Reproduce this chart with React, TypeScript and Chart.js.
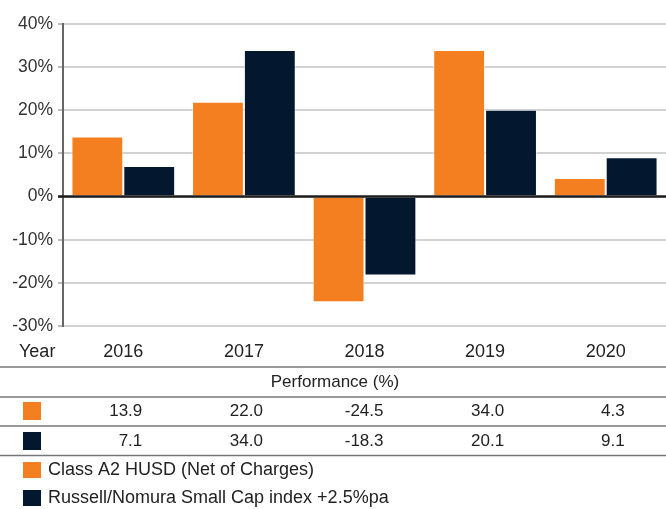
import React, { useEffect, useRef } from "react";
import { Chart, registerables } from "chart.js";

Chart.register(...registerables);

const years = ["2016", "2017", "2018", "2019", "2020"];
const classA2 = [13.9, 22.0, -24.5, 34.0, 4.3];
const russell = [7.1, 34.0, -18.3, 20.1, 9.1];
const yTicks = [-30, -20, -10, 0, 10, 20, 30, 40];
const seriesNames = ["Class A2 HUSD (Net of Charges)", "Russell/Nomura Small Cap index +2.5%pa"];
const tableTitle = "Performance (%)";
const yearHeader = "Year";

const ORANGE = "#F47F20";
const NAVY = "#03182F";
const FONT = "'Liberation Sans', Arial, Helvetica, sans-serif";
const TEXT = "#222";

const tablePlugin = {
  id: "tablePlugin",
  afterDatasetsDraw(chart: any) {
    const ctx = chart.ctx;
    const x = chart.scales.x;
    const y = chart.scales.y;
    const area = chart.chartArea;
    const W = chart.width;
    ctx.save();
    // zero line over bars
    const y0 = y.getPixelForValue(0);
    ctx.strokeStyle = "#1e1e1e";
    ctx.lineWidth = 2.5;
    ctx.beginPath();
    ctx.moveTo(area.left - 5, y0);
    ctx.lineTo(W, y0);
    ctx.stroke();

    ctx.font = `18px ${FONT}`;
    ctx.fillStyle = TEXT;
    ctx.textBaseline = "middle";
    // Year row
    ctx.textAlign = "left";
    ctx.fillText(yearHeader, 19, 352);
    ctx.textAlign = "center";
    years.forEach((yr, i) => ctx.fillText(yr, x.getPixelForValue(i), 352));

    const hline = (yy: number) => {
      ctx.strokeStyle = "#777";
      ctx.lineWidth = 1.5;
      ctx.beginPath();
      ctx.moveTo(0, yy);
      ctx.lineTo(W, yy);
      ctx.stroke();
    };
    hline(367);
    ctx.fillStyle = TEXT;
    ctx.textAlign = "center";
    ctx.font = `17px ${FONT}`;
    ctx.fillText(tableTitle, W / 2 + 2, 382);
    hline(397);

    const rows = [
      { color: ORANGE, data: classA2, y: 411 },
      { color: NAVY, data: russell, y: 441 },
    ];
    rows.forEach((r) => {
      ctx.fillStyle = r.color;
      ctx.fillRect(23, r.y - 9, 18, 18);
      ctx.fillStyle = TEXT;
      ctx.textAlign = "right";
      ctx.font = `17px ${FONT}`;
      r.data.forEach((v, i) => ctx.fillText(v.toFixed(1), x.getPixelForValue(i) + 19, r.y));
    });
    hline(426);
    hline(455.5);

    // legend
    const legend = [
      { color: ORANGE, label: seriesNames[0], y: 470 },
      { color: NAVY, label: seriesNames[1], y: 498 },
    ];
    legend.forEach((l) => {
      ctx.fillStyle = l.color;
      ctx.fillRect(23, l.y - 8, 18, 16);
      ctx.fillStyle = TEXT;
      ctx.textAlign = "left";
      ctx.font = `18px ${FONT}`;
      ctx.fillText(l.label, 48, l.y);
    });
    ctx.restore();
  },
};

export default function App() {
  const ref = useRef<HTMLCanvasElement | null>(null);
  useEffect(() => {
    if (!ref.current) return;
    const chart = new Chart(ref.current, {
      type: "bar",
      data: {
        labels: years,
        datasets: [
          {
            label: seriesNames[0],
            data: classA2,
            backgroundColor: ORANGE,
            borderColor: "rgba(255,255,255,0.6)",
            borderWidth: 1,
            categoryPercentage: 0.86,
            barPercentage: 1,
          },
          {
            label: seriesNames[1],
            data: russell,
            backgroundColor: NAVY,
            borderColor: "rgba(255,255,255,0.6)",
            borderWidth: 1,
            categoryPercentage: 0.86,
            barPercentage: 1,
          },
        ],
      },
      options: {
        responsive: false,
        animation: false,
        devicePixelRatio: 1,
        layout: { padding: { top: 24, bottom: 183, left: 0, right: 0 } },
        plugins: { legend: { display: false }, tooltip: { enabled: false } },
        scales: {
          x: { display: false },
          y: {
            min: -30,
            max: 40,
            afterBuildTicks: (s: any) => {
              s.ticks = yTicks.map((v) => ({ value: v }));
            },
            afterFit: (s: any) => {
              s.width = 63;
            },
            border: { display: true, color: "#666", width: 2 },
            grid: {
              color: "#d2d2d2",
              lineWidth: 2,
              tickLength: 5,
              tickColor: "#bbb",
              drawOnChartArea: true,
            },
            ticks: {
              color: "#333",
              font: { family: FONT, size: 17.5 },
              padding: 5,
              callback: (v: any) => `${v}%`,
            },
          },
        },
      },
      plugins: [tablePlugin],
    });
    return () => chart.destroy();
  }, []);
  return (
    <div style={{ position: "absolute", left: 0, top: 0, width: 666, height: 509, background: "#fff" }}>
      <canvas ref={ref} width={666} height={509} />
    </div>
  );
}
